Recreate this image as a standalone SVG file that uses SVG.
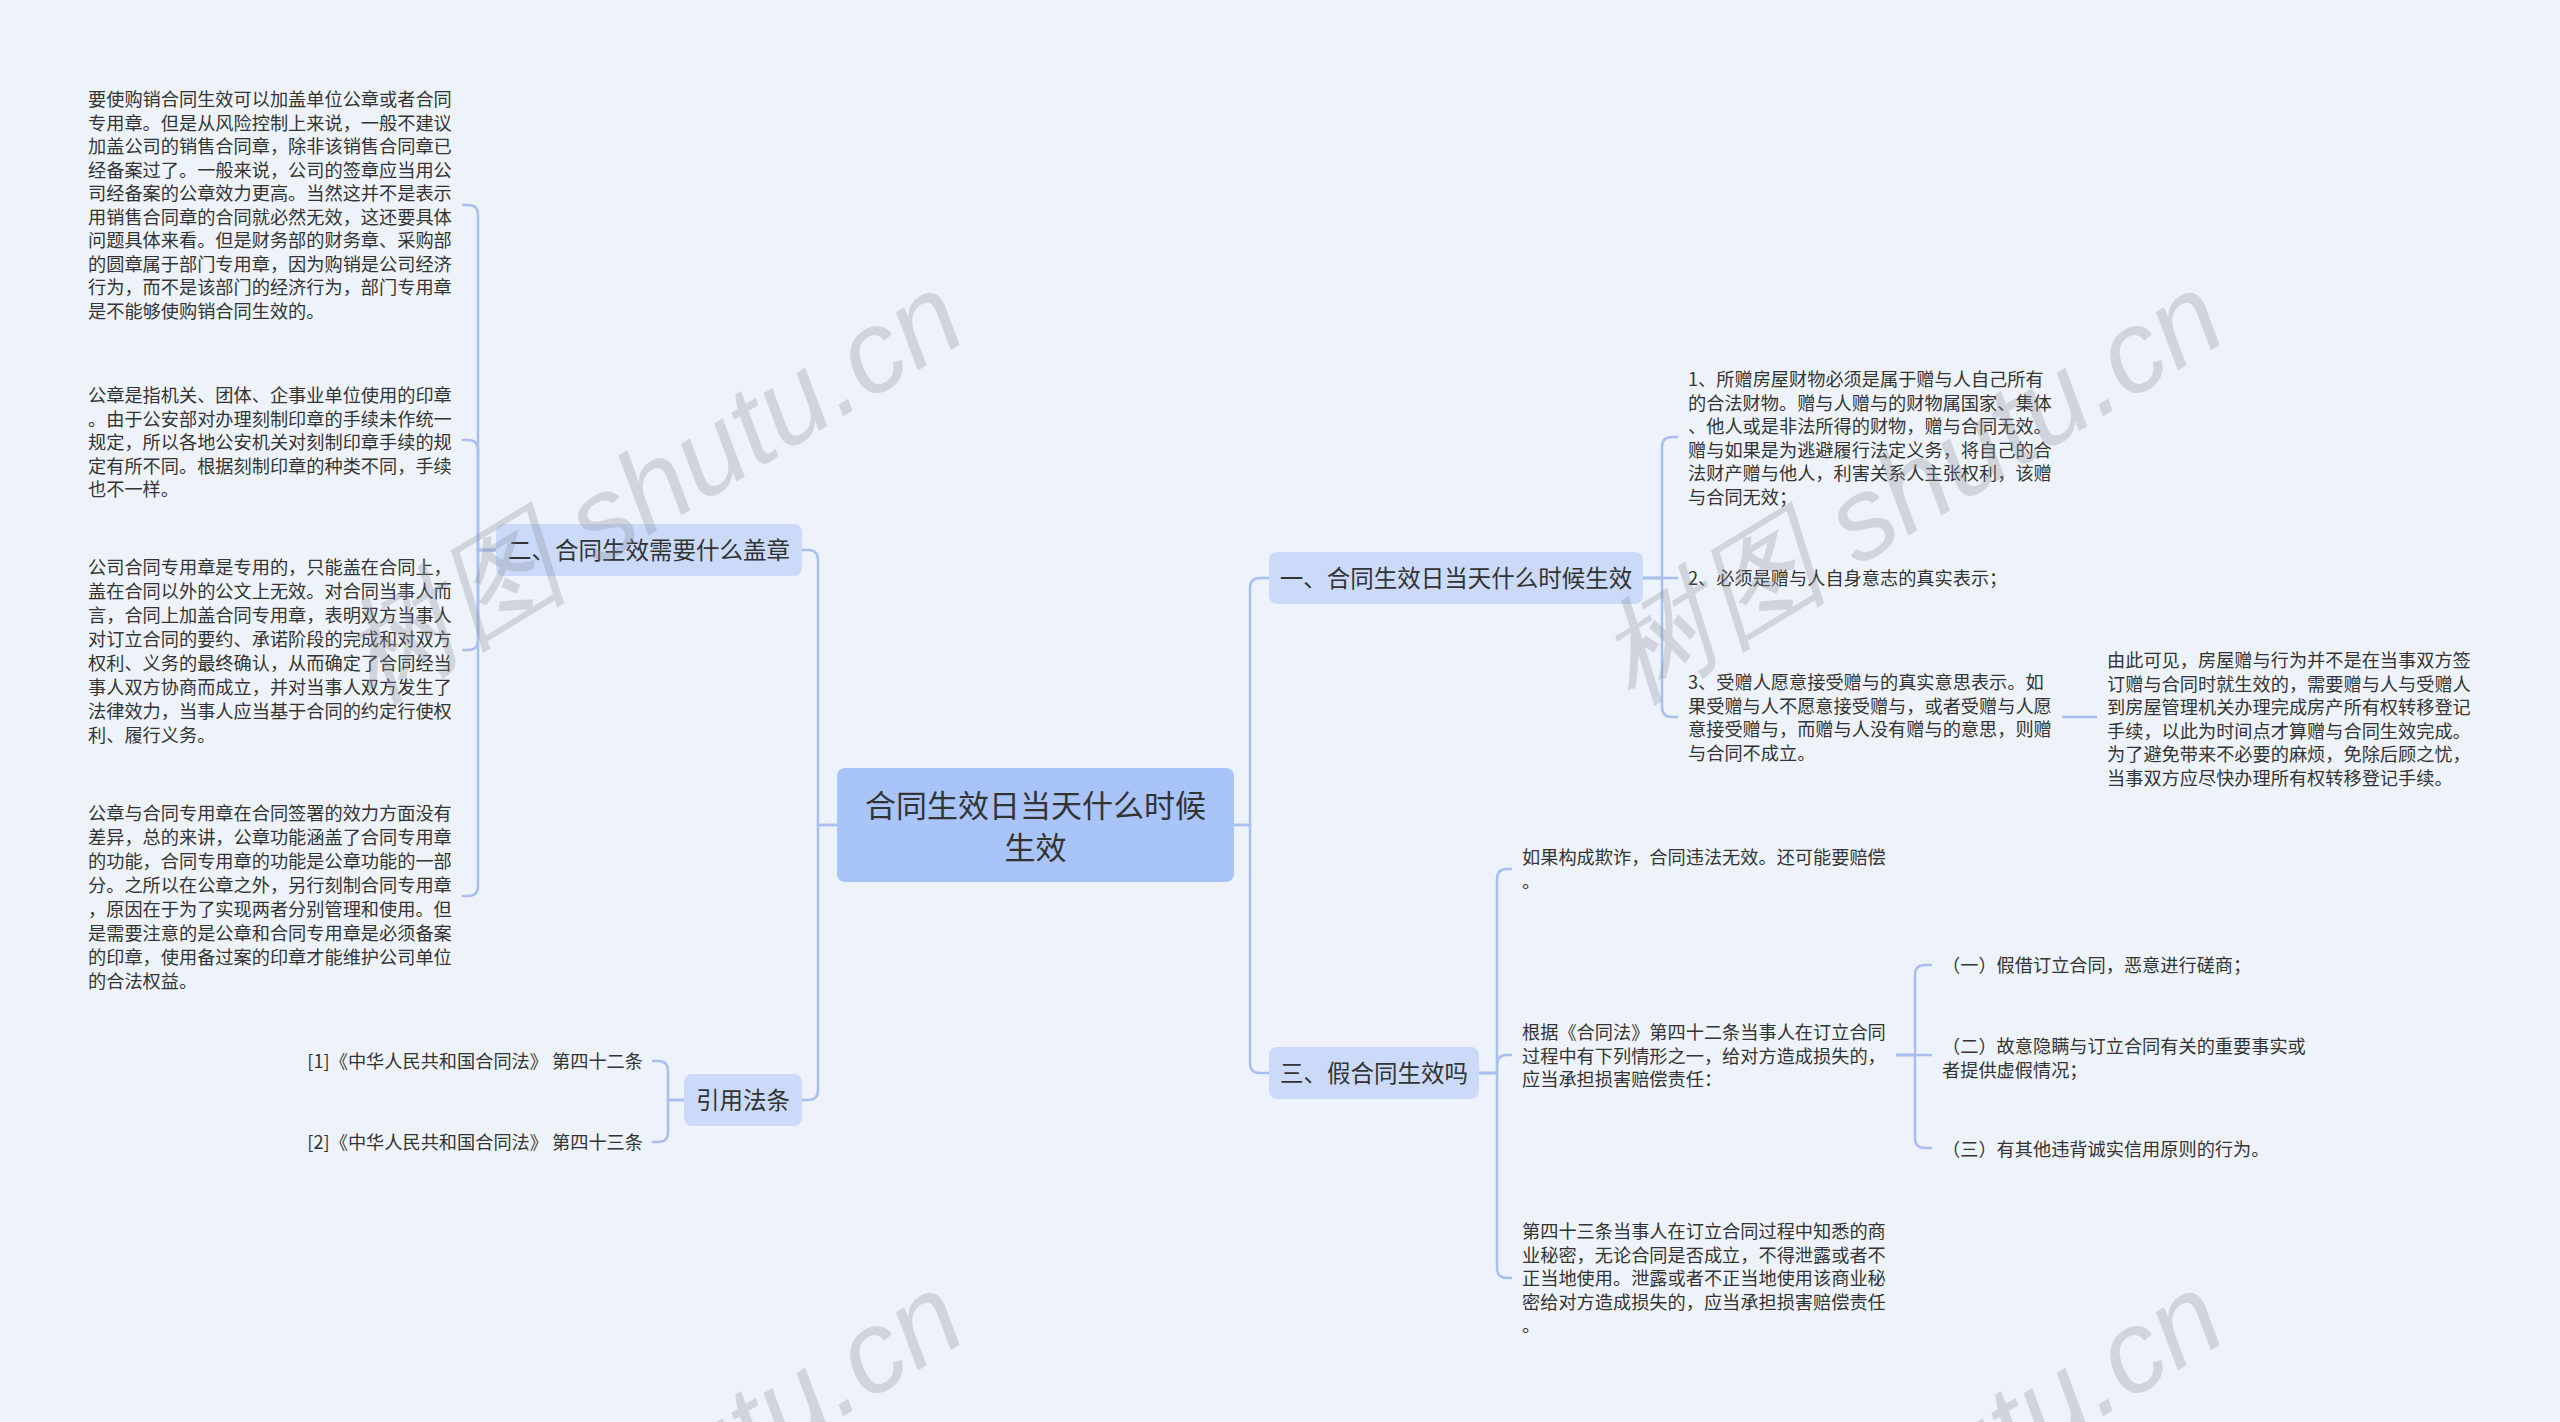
<svg xmlns="http://www.w3.org/2000/svg" width="2560" height="1422" viewBox="0 0 2560 1422">
<style>
text{font-family:"Noto Sans CJK SC","Noto Sans",sans-serif;fill:#333}
.leaf{font-size:18.2px}
.br{font-size:23.5px;text-anchor:middle}
.root{font-size:31px;text-anchor:middle}
.bnode{fill:#cbdaf9}
.rnode{fill:#a9c4f9}
.conn path{fill:none;stroke:#a8bff0;stroke-width:2.5}
.wm{font-family:"Liberation Sans","DejaVu Sans",sans-serif;font-size:116px;fill:#8a8f99;fill-opacity:0.3;font-style:italic}
</style>
<defs>
<text id="wmt" class="wm" x="0" y="0">树图 shutu.cn</text>
</defs>
<rect x="0" y="0" width="2560" height="1422" fill="#eef3fb"/>

<g id="connectors" class="conn">
<path d="M1234 825 H1250 V588 Q1250 578 1260 578 H1269"/>
<path d="M1234 825 H1250 V1063 Q1250 1073 1260 1073 H1269"/>
<path d="M837 825 H818 V560 Q818 550 808 550 H802"/>
<path d="M837 825 H818 V1090 Q818 1100 808 1100 H802"/>
<path d="M1643 578 H1662 V447 Q1662 437 1672 437 H1678"/>
<path d="M1643 578 H1678"/>
<path d="M1643 578 H1662 V707 Q1662 717 1672 717 H1678"/>
<path d="M2062 717 H2097"/>
<path d="M1479 1073 H1497 V879 Q1497 869 1507 869 H1512"/>
<path d="M1479 1073 H1497 V1065 Q1497 1055 1507 1055 H1512"/>
<path d="M1479 1073 H1497 V1268 Q1497 1278 1507 1278 H1512"/>
<path d="M1896 1055 H1915 V975 Q1915 965 1925 965 H1932"/>
<path d="M1896 1055 H1932"/>
<path d="M1896 1055 H1915 V1138 Q1915 1148 1925 1148 H1932"/>
<path d="M496 550 H478 V215 Q478 205 468 205 H462"/>
<path d="M496 550 H478 V450 Q478 440 468 440 H462"/>
<path d="M496 550 H478 V640 Q478 650 468 650 H462"/>
<path d="M496 550 H478 V886 Q478 896 468 896 H462"/>
<path d="M684 1100 H668 V1071 Q668 1061 658 1061 H652"/>
<path d="M684 1100 H668 V1132 Q668 1142 658 1142 H652"/>
</g>

<g id="root">
<rect class="rnode" x="837" y="768" width="397" height="114" rx="8"/>
<text class="root" x="1035.5" y="817">合同生效日当天什么时候</text>
<text class="root" x="1035.5" y="859">生效</text>
</g>

<g id="b1">
<rect class="bnode" x="1269" y="552" width="374" height="52" rx="8"/>
<text class="br" x="1456" y="587">一、合同生效日当天什么时候生效</text>
</g>
<g id="b3">
<rect class="bnode" x="1269" y="1047" width="210" height="52" rx="8"/>
<text class="br" x="1374" y="1082">三、假合同生效吗</text>
</g>
<g id="b2">
<rect class="bnode" x="496" y="524" width="306" height="52" rx="8"/>
<text class="br" x="649" y="559">二、合同生效需要什么盖章</text>
</g>
<g id="b4">
<rect class="bnode" x="684" y="1074" width="118" height="52" rx="8"/>
<text class="br" x="743" y="1109">引用法条</text>
</g>

<g id="b2-1">
<text class="leaf" x="88">
<tspan x="88" y="106">要使购销合同生效可以加盖单位公章或者合同</tspan>
<tspan x="88" y="129.5">专用章。但是从风险控制上来说，一般不建议</tspan>
<tspan x="88" y="153">加盖公司的销售合同章，除非该销售合同章已</tspan>
<tspan x="88" y="176.5">经备案过了。一般来说，公司的签章应当用公</tspan>
<tspan x="88" y="200">司经备案的公章效力更高。当然这并不是表示</tspan>
<tspan x="88" y="223.5">用销售合同章的合同就必然无效，这还要具体</tspan>
<tspan x="88" y="247">问题具体来看。但是财务部的财务章、采购部</tspan>
<tspan x="88" y="270.5">的圆章属于部门专用章，因为购销是公司经济</tspan>
<tspan x="88" y="294">行为，而不是该部门的经济行为，部门专用章</tspan>
<tspan x="88" y="317.5">是不能够使购销合同生效的。</tspan>
</text>
</g>
<g id="b2-2">
<text class="leaf">
<tspan x="88" y="402">公章是指机关、团体、企事业单位使用的印章</tspan>
<tspan x="88" y="425.5">。由于公安部对办理刻制印章的手续未作统一</tspan>
<tspan x="88" y="449">规定，所以各地公安机关对刻制印章手续的规</tspan>
<tspan x="88" y="472.5">定有所不同。根据刻制印章的种类不同，手续</tspan>
<tspan x="88" y="496">也不一样。</tspan>
</text>
</g>
<g id="b2-3">
<text class="leaf">
<tspan x="88" y="574">公司合同专用章是专用的，只能盖在合同上，</tspan>
<tspan x="88" y="598">盖在合同以外的公文上无效。对合同当事人而</tspan>
<tspan x="88" y="622">言，合同上加盖合同专用章，表明双方当事人</tspan>
<tspan x="88" y="646">对订立合同的要约、承诺阶段的完成和对双方</tspan>
<tspan x="88" y="670">权利、义务的最终确认，从而确定了合同经当</tspan>
<tspan x="88" y="694">事人双方协商而成立，并对当事人双方发生了</tspan>
<tspan x="88" y="718">法律效力，当事人应当基于合同的约定行使权</tspan>
<tspan x="88" y="742">利、履行义务。</tspan>
</text>
</g>
<g id="b2-4">
<text class="leaf">
<tspan x="88" y="820">公章与合同专用章在合同签署的效力方面没有</tspan>
<tspan x="88" y="844">差异，总的来讲，公章功能涵盖了合同专用章</tspan>
<tspan x="88" y="868">的功能，合同专用章的功能是公章功能的一部</tspan>
<tspan x="88" y="892">分。之所以在公章之外，另行刻制合同专用章</tspan>
<tspan x="88" y="916">，原因在于为了实现两者分别管理和使用。但</tspan>
<tspan x="88" y="940">是需要注意的是公章和合同专用章是必须备案</tspan>
<tspan x="88" y="964">的印章，使用备过案的印章才能维护公司单位</tspan>
<tspan x="88" y="988">的合法权益。</tspan>
</text>
</g>

<g id="b4-1"><text class="leaf" x="643" y="1068" text-anchor="end">[1]《中华人民共和国合同法》 第四十二条</text></g>
<g id="b4-2"><text class="leaf" x="643" y="1149" text-anchor="end">[2]《中华人民共和国合同法》 第四十三条</text></g>

<g id="b1-1">
<text class="leaf">
<tspan x="1688" y="386">1、所赠房屋财物必须是属于赠与人自己所有</tspan>
<tspan x="1688" y="409.5">的合法财物。赠与人赠与的财物属国家、集体</tspan>
<tspan x="1688" y="433">、他人或是非法所得的财物，赠与合同无效。</tspan>
<tspan x="1688" y="456.5">赠与如果是为逃避履行法定义务，将自己的合</tspan>
<tspan x="1688" y="480">法财产赠与他人，利害关系人主张权利，该赠</tspan>
<tspan x="1688" y="503.5">与合同无效；</tspan>
</text>
</g>
<g id="b1-2"><text class="leaf" x="1688" y="585">2、必须是赠与人自身意志的真实表示；</text></g>
<g id="b1-3">
<text class="leaf">
<tspan x="1688" y="689">3、受赠人愿意接受赠与的真实意思表示。如</tspan>
<tspan x="1688" y="712.5">果受赠与人不愿意接受赠与，或者受赠与人愿</tspan>
<tspan x="1688" y="736">意接受赠与，而赠与人没有赠与的意思，则赠</tspan>
<tspan x="1688" y="759.5">与合同不成立。</tspan>
</text>
</g>
<g id="b1-3-1">
<text class="leaf">
<tspan x="2107" y="667">由此可见，房屋赠与行为并不是在当事双方签</tspan>
<tspan x="2107" y="690.5">订赠与合同时就生效的，需要赠与人与受赠人</tspan>
<tspan x="2107" y="714">到房屋管理机关办理完成房产所有权转移登记</tspan>
<tspan x="2107" y="737.5">手续，以此为时间点才算赠与合同生效完成。</tspan>
<tspan x="2107" y="761">为了避免带来不必要的麻烦，免除后顾之忧，</tspan>
<tspan x="2107" y="784.5">当事双方应尽快办理所有权转移登记手续。</tspan>
</text>
</g>

<g id="b3-1">
<text class="leaf">
<tspan x="1522" y="864">如果构成欺诈，合同违法无效。还可能要赔偿</tspan>
<tspan x="1522" y="888">。</tspan>
</text>
</g>
<g id="b3-2">
<text class="leaf">
<tspan x="1522" y="1039">根据《合同法》第四十二条当事人在订立合同</tspan>
<tspan x="1522" y="1062.5">过程中有下列情形之一，给对方造成损失的，</tspan>
<tspan x="1522" y="1086">应当承担损害赔偿责任：</tspan>
</text>
</g>
<g id="b3-3">
<text class="leaf">
<tspan x="1522" y="1238">第四十三条当事人在订立合同过程中知悉的商</tspan>
<tspan x="1522" y="1261.5">业秘密，无论合同是否成立，不得泄露或者不</tspan>
<tspan x="1522" y="1285">正当地使用。泄露或者不正当地使用该商业秘</tspan>
<tspan x="1522" y="1308.5">密给对方造成损失的，应当承担损害赔偿责任</tspan>
<tspan x="1522" y="1332">。</tspan>
</text>
</g>
<g id="b3-2-1"><text class="leaf" x="1942" y="972">（一）假借订立合同，恶意进行磋商；</text></g>
<g id="b3-2-2">
<text class="leaf">
<tspan x="1942" y="1053">（二）故意隐瞒与订立合同有关的重要事实或</tspan>
<tspan x="1942" y="1076.5">者提供虚假情况；</tspan>
</text>
</g>
<g id="b3-2-3"><text class="leaf" x="1942" y="1156">（三）有其他违背诚实信用原则的行为。</text></g>

<g id="watermarks">
<use href="#wmt" transform="translate(372 705) rotate(-31.5)"/>
<use href="#wmt" transform="translate(1632 705) rotate(-31.5)"/>
<use href="#wmt" transform="translate(372 1705) rotate(-31.5)"/>
<use href="#wmt" transform="translate(1632 1705) rotate(-31.5)"/>
</g>
</svg>
